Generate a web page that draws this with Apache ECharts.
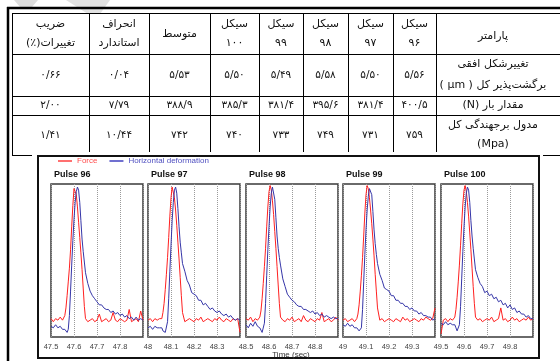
<!DOCTYPE html>
<html>
<head>
<meta charset="utf-8">
<script src="https://cdn.jsdelivr.net/npm/echarts@6/dist/echarts.min.js"></script>
<style>
html, body { margin: 0; padding: 0; background: #fff; }
#main { width: 560px; height: 361px; }
</style>
</head>
<body>
<div id="main" dir="rtl"></div>
<script>
// ---- table data (left to right, like the picture) ----
var tableHeader = ['ضریب\nتغییرات(٪)', 'انحراف\nاستاندارد', 'متوسط', 'سیکل\n100', 'سیکل\n99', 'سیکل\n98', 'سیکل\n97', 'سیکل\n96', 'پارامتر'];
var deformRow = ['0.66', '0.04', '5.53', '5.50', '5.49', '5.58', '5.50', '5.56', 'تغییرشکل افقی\nبرگشت\u200cپذیر کل ( μm )'];
var loadRow = ['2.00', '7.79', '388.9', '385.3', '381.4', '395.6', '381.4', '400.5', 'مقدار بار (N)'];
var modulusRow = ['1.41', '10.44', '742', '740', '733', '749', '731', '759', 'مدول برجهندگی کل\n(Mpa)'];

// ---- pulse data ----
var pulseNames = ['Pulse 96', 'Pulse 97', 'Pulse 98', 'Pulse 99', 'Pulse 100'];
var panelStart = [47.5, 48, 48.5, 49, 49.5];
var panelEnd = [47.9, 48.4, 48.9, 49.4, 49.9];
var timeTicks = 0.1;

// time inside each panel (sec from panel start)
var tOffset = [0, 0.01, 0.02, 0.03, 0.04, 0.05,
  0.055, 0.06, 0.065, 0.07, 0.075, 0.08, 0.085, 0.09, 0.095, 0.1,
  0.105, 0.11, 0.115, 0.12, 0.125, 0.13, 0.135, 0.14, 0.145, 0.15,
  0.16, 0.17, 0.18, 0.19, 0.2, 0.21, 0.22, 0.23, 0.24, 0.25,
  0.26, 0.27, 0.28, 0.29, 0.3, 0.31, 0.32, 0.33, 0.34, 0.35,
  0.36, 0.37, 0.38, 0.39, 0.4];

var force96 = [12, 10, 12, 11, 13, 11,
  12, 14, 19, 27, 36, 45, 57, 72, 86, 97,
  98, 93, 85, 75, 65, 55, 44, 32, 20, 12,
  10, 11, 12, 10, 11, 15, 10, 11, 12, 10,
  11, 16, 11, 10, 12, 11, 10, 11, 18, 10,
  11, 12, 10, 17, 11];
var deform96 = [7, 6, 8, 6, 7, 5,
  6, 5, 4, 3, 5, 14, 30, 47, 63, 77,
  88, 95, 98, 96, 88, 76, 64, 56, 49, 42,
  35, 30, 27, 25, 23, 21, 21, 19, 18, 18,
  16, 17, 15, 16, 14, 15, 13, 14, 12, 13,
  11, 13, 11, 12, 11];

var force97 = [11, 12, 10, 12, 11, 12,
  11, 12, 16, 22, 31, 41, 52, 65, 79, 91,
  98, 97, 91, 83, 73, 62, 51, 39, 27, 16,
  10, 11, 12, 11, 10, 12, 11, 13, 10, 11,
  12, 11, 10, 12, 11, 13, 11, 10, 12, 11,
  10, 12, 11, 12, 3];
var deform97 = [6, 7, 5, 7, 6, 6,
  5, 6, 4, 5, 3, 2, 10, 25, 43, 60,
  76, 88, 96, 98, 94, 84, 72, 62, 55, 48,
  43, 37, 34, 29, 28, 27, 24, 24, 21, 22,
  20, 18, 19, 17, 16, 17, 15, 14, 15, 13,
  14, 12, 11, 12, 11];

var force98 = [12, 11, 13, 10, 12, 11,
  12, 13, 17, 25, 35, 46, 58, 72, 85, 95,
  99, 96, 89, 80, 69, 58, 46, 34, 22, 13,
  11, 10, 12, 11, 13, 10, 11, 12, 10, 14,
  11, 10, 12, 11, 10, 12, 11, 16, 10, 11,
  12, 10, 11, 13, 11];
var deform98 = [8, 6, 9, 7, 10, 7,
  8, 6, 5, 3, 4, 9, 22, 40, 57, 72,
  85, 94, 98, 97, 90, 78, 66, 58, 52, 47,
  38, 33, 28, 26, 24, 23, 21, 20, 20, 18,
  18, 17, 16, 17, 15, 16, 14, 15, 13, 14,
  13, 12, 13, 12, 12];

var force99 = [11, 12, 10, 11, 12, 10,
  11, 12, 15, 21, 30, 40, 52, 66, 81, 93,
  99, 97, 91, 83, 74, 64, 53, 41, 30, 19,
  11, 12, 10, 11, 12, 11, 10, 12, 11, 10,
  13, 11, 12, 10, 11, 12, 11, 10, 12, 11,
  13, 12, 11, 12, 19];
var deform99 = [8, 7, 9, 7, 8, 6,
  7, 6, 5, 4, 3, 6, 18, 36, 54, 70,
  83, 92, 97, 98, 93, 82, 70, 61, 54, 48,
  41, 37, 32, 31, 30, 27, 27, 24, 24, 22,
  22, 20, 20, 18, 19, 17, 17, 15, 16, 14,
  14, 13, 13, 11, 12];

var force100 = [2, 11, 12, 10, 12, 11,
  12, 13, 18, 26, 36, 47, 60, 74, 87, 96,
  99, 95, 88, 79, 68, 57, 45, 33, 22, 13,
  11, 12, 10, 11, 12, 11, 13, 10, 11, 12,
  19, 11, 12, 10, 11, 13, 11, 12, 10, 11,
  12, 11, 13, 11, 12];
var deform100 = [9, 8, 10, 8, 9, 8,
  7, 8, 6, 4, 3, 8, 20, 38, 56, 72,
  85, 94, 98, 96, 88, 76, 66, 58, 51, 44,
  39, 35, 33, 29, 30, 27, 28, 25, 26, 23,
  24, 21, 22, 19, 21, 18, 19, 16, 17, 15,
  15, 13, 14, 12, 12];

var forceData = [force96, force97, force98, force99, force100];
var deformData = [deform96, deform97, deform98, deform99, deform100];

// ---- layout ----
var panelLeft = [51, 148, 246, 343, 441];
var panelWidth = 92;
var panelTop = 184;
var panelHeight = 153;
var colX = [12, 89, 149, 210, 259, 303, 348, 393, 436, 560];
var rowY = [13.5, 54, 96, 115, 155];

var FA = '۰۱۲۳۴۵۶۷۸۹';
function toFa(s) {
  return s.replace(/[0-9]/g, function (d) { return FA[+d]; }).replace(/\./g, '/');
}

function line(x1, y1, x2, y2, w) {
  return { type: 'line', silent: true, shape: { x1: x1, y1: y1, x2: x2, y2: y2 },
    style: { stroke: '#000', lineWidth: w || 1 } };
}
function cellText(text, cx, cy, lh, size) {
  return { type: 'text', silent: true,
    style: { text: text, x: cx, y: cy, fill: '#111', fontSize: size, fontFamily: 'DejaVu Sans',
      align: 'center', verticalAlign: 'middle', lineHeight: lh } };
}

var elements = [];
// faint marks at the top left
elements.push({ type: 'polygon', silent: true, shape: { points: [[14, 0], [38, 0], [32, 7], [20, 7]] }, style: { fill: '#dedede' } });
elements.push({ type: 'polygon', silent: true, shape: { points: [[66, 0], [110, 0], [100, 14], [88, 14]] }, style: { fill: '#e2e2e2' } });

// table frame
elements.push(line(7, 8, 560, 8, 2.5));
elements.push(line(8, 7, 8, 361, 2.5));
elements.push(line(12, 13.5, 560, 13.5));
elements.push(line(12.5, 13.5, 12.5, 155.5));
for (var r = 1; r < rowY.length - 1; r++) {
  elements.push(line(12, rowY[r] + 0.5, 560, rowY[r] + 0.5));
}
elements.push(line(12, 155.5, 32, 155.5));
elements.push(line(543, 155.5, 560, 155.5));
for (var c = 1; c < colX.length - 1; c++) {
  elements.push(line(colX[c] + 0.5, 13.5, colX[c] + 0.5, 152));
}

// table texts
var rowsText = [tableHeader, deformRow, loadRow, modulusRow];
var rowLH = [19, 21, 14, 19];
for (var ri = 0; ri < rowsText.length; ri++) {
  var cy = (rowY[ri] + rowY[ri + 1]) / 2;
  for (var ci = 0; ci < colX.length - 1; ci++) {
    var isParam = ci === colX.length - 2;
    var cx = isParam ? 493 : (colX[ci] + colX[ci + 1]) / 2;
    var txt = rowsText[ri][ci];
    if (!isParam) txt = toFa(txt);
    var ty = cy;
    if (ri === 0 && isParam) ty = cy + 2;
    var size = (ri === 0 || isParam) ? 11 : 10.5;
    elements.push(cellText(txt, cx, ty, rowLH[ri], size));
  }
}

// chart frame
elements.push({ type: 'rect', silent: true, shape: { x: 38, y: 156, width: 501, height: 202 },
  style: { fill: null, stroke: '#111', lineWidth: 2 } });
elements.push({ type: 'text', silent: true,
  style: { text: 'Time (sec)\u200e', x: 291, y: 355, fill: '#333', fontSize: 8,
    fontFamily: 'Liberation Sans', align: 'center', verticalAlign: 'middle' } });

var grids = [], xAxes = [], yAxes = [], titles = [], series = [];
for (var i = 0; i < 5; i++) {
  grids.push({ left: panelLeft[i], top: panelTop, width: panelWidth, height: panelHeight,
    show: true, borderColor: '#3a3a3a', borderWidth: 1.5, backgroundColor: 'transparent' });
  xAxes.push({ type: 'value', gridIndex: i, min: panelStart[i], max: panelEnd[i], interval: timeTicks,
    axisLine: { show: false }, axisTick: { show: false },
    splitLine: { show: true, lineStyle: { type: 'dotted', color: '#9a9a9a', width: 1 } },
    axisLabel: { showMaxLabel: false, fontSize: 7.5, color: '#444', margin: 6, fontFamily: 'Liberation Sans' } });
  yAxes.push({ type: 'value', gridIndex: i, min: 0, max: 100, show: false });
  titles.push({ text: pulseNames[i], left: panelLeft[i] + 3, top: 170, padding: 0,
    textStyle: { fontSize: 9, fontWeight: 'bold', color: '#111', fontFamily: 'Liberation Sans' } });
  var fd = [], dd = [];
  for (var j = 0; j < tOffset.length; j++) {
    var t = +(panelStart[i] + tOffset[j]).toFixed(3);
    fd.push([t, forceData[i][j]]);
    dd.push([t, deformData[i][j]]);
  }
  series.push({ type: 'line', name: 'Force', xAxisIndex: i, yAxisIndex: i, data: fd, symbol: 'none',
    lineStyle: { width: 1, color: '#ff2020' }, itemStyle: { color: '#ff2020' }, z: 3 });
  series.push({ type: 'line', name: 'Horizontal deformation', xAxisIndex: i, yAxisIndex: i, data: dd, symbol: 'none',
    lineStyle: { width: 1, color: '#3535a8' }, itemStyle: { color: '#3535a8' }, z: 4 });
}

var myChart = echarts.init(document.getElementById('main'));
var option = {
  animation: false,
  backgroundColor: '#fff',
  textStyle: { fontFamily: 'Liberation Sans' },
  title: titles,
  legend: {
    left: 58, top: 157, padding: 0, itemGap: 12, itemWidth: 14, itemHeight: 2, icon: 'rect',
    textStyle: { fontSize: 8 },
    data: [
      { name: 'Force', textStyle: { color: '#ff5050' }, itemStyle: { color: '#ff7070' } },
      { name: 'Horizontal deformation', textStyle: { color: '#5050c0' }, itemStyle: { color: '#7070d0' } }
    ]
  },
  grid: grids,
  xAxis: xAxes,
  yAxis: yAxes,
  series: series,
  graphic: { elements: elements }
};
myChart.setOption(option);
</script>
</body>
</html>
